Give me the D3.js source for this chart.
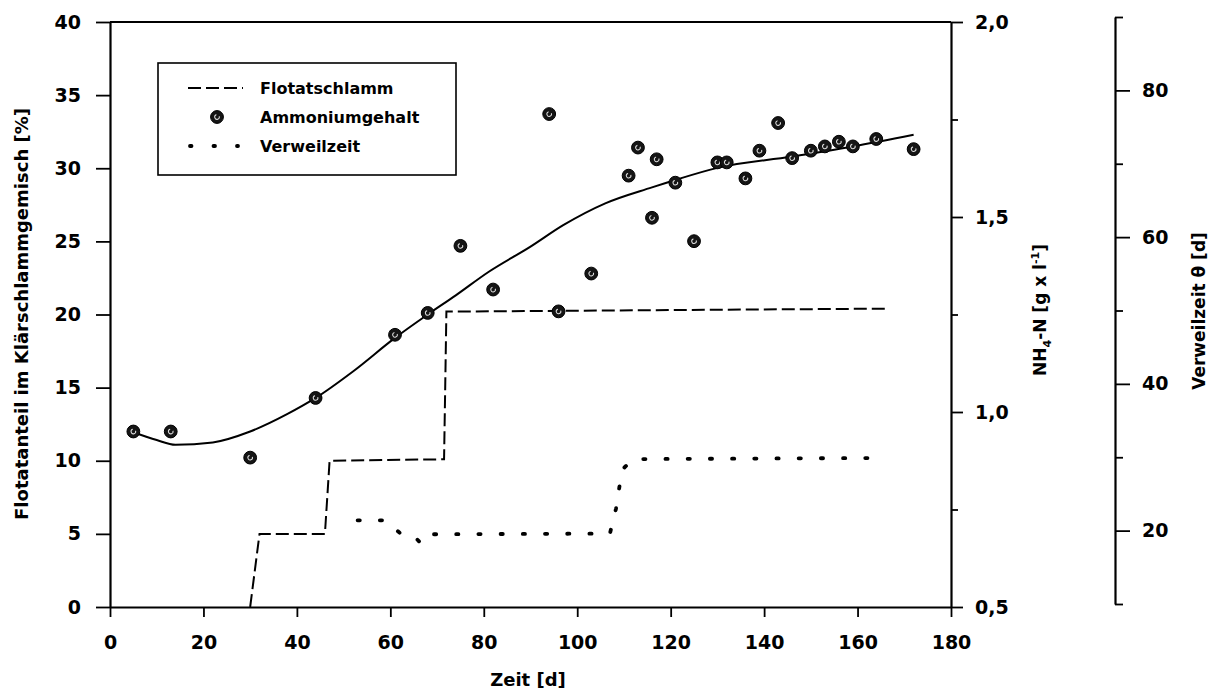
<!DOCTYPE html>
<html><head><meta charset="utf-8">
<script src="https://cdn.jsdelivr.net/npm/d3@7"></script>
<style>
body{margin:0;background:#fff}
svg{display:block}
text{font-family:"DejaVu Sans",sans-serif;font-weight:bold;fill:#000}
</style>
</head><body>
<svg id="c" width="1221" height="695"></svg>
<script>
// ---- tick labels / axes ----
const xTicks=[0,20,40,60,80,100,120,140,160,180];
const leftTicks=[0,5,10,15,20,25,30,35,40];
const nh4Ticks=[0.5,1.0,1.5,2.0];
const nh4Minor=[0.75,1.25,1.75];
const verwTicks=[20,40,60,80];
const verwMinor=[10,30,50,70,90];

// ---- series: Flotatschlamm [%] ----
const flotDays=[30,32,46,47,71.5,72,166];
const flotPct=[0,5,5,10,10.1,20.2,20.4];

// ---- series: Ammoniumgehalt NH4-N [g/l] (measured points) ----
const ammDays=[5,13,30,44,61,68,75,82,94,96,103,111,113,116,117,121,125,130,132,136,139,143,146,150,153,156,159,164,172];
const ammVals=[0.950,0.950,0.883,1.036,1.198,1.254,1.426,1.314,1.764,1.258,1.355,1.606,1.678,1.498,1.648,1.588,1.438,1.640,1.640,1.599,1.670,1.741,1.651,1.670,1.681,1.693,1.681,1.700,1.674];

// ---- series: Ammonium trend curve ----
const fitDays=[5,10,14,22,30,38,44,52,61,68,74,81,90,97,106,116,121,130,146,159,172];
const fitVals=[0.948,0.928,0.916,0.922,0.950,0.995,1.036,1.104,1.190,1.250,1.299,1.359,1.424,1.479,1.535,1.576,1.595,1.626,1.655,1.681,1.711];

// ---- series: Verweilzeit theta [d] ----
const verwDays=[53,59,62,65,66.5,68,107,108.3,109.6,112,166];
const verwVals=[21.4,21.4,19.7,19.3,18.3,19.5,19.6,23,28.3,29.75,29.9];

const svg=d3.select("#c");
const x=d3.scaleLinear().domain([0,180]).range([110,951]);
const yL=d3.scaleLinear().domain([0,40]).range([607,22]);
const yN=d3.scaleLinear().domain([0.5,2.0]).range([607,22]);
const yV=d3.scaleLinear().domain([10,90]).range([604,17]);

function styleAxis(g,fs){
  g.select(".domain").attr("stroke","#000").attr("stroke-width",2.2);
  g.selectAll(".tick line").attr("stroke","#000").attr("stroke-width",1.8);
  g.selectAll(".tick text").style("font-size",fs+"px").style("font-family","'DejaVu Sans',sans-serif").style("font-weight","bold").attr("fill","#000");
}

// top frame line
svg.append("line").attr("x1",x(0)).attr("x2",x(180)).attr("y1",yL(40)).attr("y2",yL(40))
  .attr("stroke","#000").attr("stroke-width",2.2);

// bottom axis
svg.append("g").attr("transform",`translate(0,${yL(0)})`)
  .call(d3.axisBottom(x).tickValues(xTicks).tickSize(10).tickSizeOuter(0).tickPadding(19))
  .call(g=>styleAxis(g,19));

// left axis
svg.append("g").attr("transform",`translate(${x(0)},0)`)
  .call(d3.axisLeft(yL).tickValues(leftTicks).tickSize(14).tickSizeOuter(0).tickPadding(15))
  .call(g=>styleAxis(g,19));

// right NH4 axis
const fmtC=d=>d3.format(".1f")(d).replace(".",",");
svg.append("g").attr("transform",`translate(${x(180)},0)`)
  .call(d3.axisRight(yN).tickValues(nh4Ticks).tickSize(12).tickSizeOuter(0).tickPadding(12).tickFormat(fmtC))
  .call(g=>styleAxis(g,19));
svg.append("g").attr("transform",`translate(${x(180)},0)`)
  .call(d3.axisRight(yN).tickValues(nh4Minor).tickSize(7).tickSizeOuter(0).tickFormat(""))
  .call(g=>{styleAxis(g,19);g.select(".domain").remove();});

// third axis Verweilzeit
svg.append("g").attr("transform","translate(1115,0)")
  .call(d3.axisRight(yV).tickValues(verwTicks).tickSize(15).tickSizeOuter(0).tickPadding(12))
  .call(g=>styleAxis(g,19));
svg.append("g").attr("transform","translate(1115,0)")
  .call(d3.axisRight(yV).tickValues(verwMinor).tickSize(8).tickSizeOuter(0).tickFormat(""))
  .call(g=>{styleAxis(g,19);g.select(".domain").remove();});

// axis titles
svg.append("text").attr("x",528).attr("y",686).attr("text-anchor","middle").style("font-size","18px").text("Zeit [d]");
svg.append("text").attr("transform","translate(28,314) rotate(-90)").attr("text-anchor","middle")
  .style("font-size","18px").text("Flotatanteil im Klärschlammgemisch [%]");
const nt=svg.append("text").attr("transform","translate(1046,310) rotate(-90)").attr("text-anchor","middle").style("font-size","17px");
nt.append("tspan").text("NH");
nt.append("tspan").attr("dy",5).style("font-size","11px").text("4");
nt.append("tspan").attr("dy",-5).text("-N [g x l");
nt.append("tspan").attr("dy",-7).style("font-size","11px").text("-1");
nt.append("tspan").attr("dy",7).text("]");
svg.append("text").attr("transform","translate(1205,311) rotate(-90)").attr("text-anchor","middle")
  .style("font-size","17px").text("Verweilzeit θ [d]");

// series lines
const flotData=flotDays.map((d,i)=>[d,flotPct[i]]);
svg.append("path").datum(flotData)
  .attr("d",d3.line().x(d=>x(d[0])).y(d=>yL(d[1])))
  .attr("fill","none").attr("stroke","#000").attr("stroke-width",2).attr("stroke-dasharray","13,5");

const fitData=fitDays.map((d,i)=>[d,fitVals[i]]);
svg.append("path").datum(fitData)
  .attr("d",d3.line().curve(d3.curveMonotoneX).x(d=>x(d[0])).y(d=>yN(d[1])))
  .attr("fill","none").attr("stroke","#000").attr("stroke-width",2);

const verwData=verwDays.map((d,i)=>[d,verwVals[i]]);
svg.append("path").datum(verwData)
  .attr("d",d3.line().x(d=>x(d[0])).y(d=>yV(d[1])))
  .attr("fill","none").attr("stroke","#000").attr("stroke-width",3.8)
  .attr("stroke-linecap","round").attr("stroke-dasharray","2.2,20");

// markers
function marker(g){
  g.append("circle").attr("r",6.4).attr("fill","#151515").attr("stroke","#000").attr("stroke-width",1);
  g.append("circle").attr("r",2.3).attr("fill","none").attr("stroke","#ddd").attr("stroke-width",1)
    .attr("stroke-dasharray","10,4.5").attr("transform","rotate(-20)");
}
const ammData=ammDays.map((d,i)=>[d,ammVals[i]]);
svg.append("g").selectAll("g").data(ammData).join("g")
  .attr("transform",d=>`translate(${x(d[0])},${yN(d[1])})`)
  .each(function(){marker(d3.select(this));});

// legend
const lg=svg.append("g");
lg.append("rect").attr("x",158).attr("y",63).attr("width",298).attr("height",112)
  .attr("fill","#fff").attr("stroke","#000").attr("stroke-width",1.6);
lg.append("line").attr("x1",188).attr("x2",243).attr("y1",88).attr("y2",88)
  .attr("stroke","#000").attr("stroke-width",2).attr("stroke-dasharray","13,5");
lg.append("g").attr("transform","translate(217,117)").call(marker);
lg.append("line").attr("x1",190).attr("x2",238).attr("y1",146).attr("y2",146)
  .attr("stroke","#000").attr("stroke-width",3.8).attr("stroke-linecap","round").attr("stroke-dasharray","1.5,22");
const legLabels=["Flotatschlamm","Ammoniumgehalt","Verweilzeit"];
const legY=[88,117,146];
legLabels.forEach((t,i)=>lg.append("text").attr("x",260).attr("y",legY[i]).attr("dy","0.36em")
  .style("font-size","16px").text(t));
</script>
</body></html>
